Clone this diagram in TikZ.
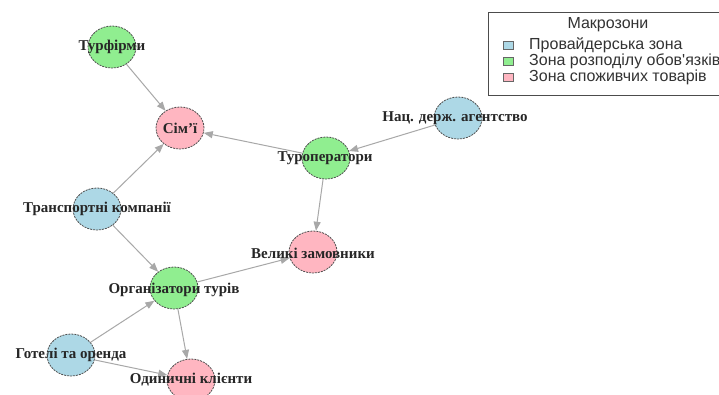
\documentclass[tikz,border=0pt]{standalone}
\usepackage{fontspec}
\setmainfont{Liberation Serif}
\newfontfamily\legendfont{Liberation Sans}
\usetikzlibrary{arrows.meta,shapes.geometric}
\definecolor{cblue}{HTML}{ADD8E6}
\definecolor{cgreen}{HTML}{90EE90}
\definecolor{cpink}{HTML}{FFB6C1}
\definecolor{edgegray}{HTML}{A8A8A8}
\definecolor{bordergray}{HTML}{505050}
\tikzset{
  vert/.style={ellipse, draw=bordergray, dash pattern=on 2pt off 1pt, line width=0.8pt,
    minimum width=48pt, minimum height=42pt, inner sep=0pt},
  lbl/.style={font=\fontsize{15}{17}\selectfont\bfseries, text=black!85, inner sep=0pt},
  edge/.style={draw=edgegray, line width=1pt, -{Triangle[length=9pt,width=7pt]}},
  legtext/.style={font=\legendfont\fontsize{16}{18}\selectfont, text=black!80, anchor=west, inner sep=0pt},
  legbox/.style={draw=black!60, line width=0.6pt, minimum width=10pt, minimum height=8pt, inner sep=0pt}
}
\begin{document}
\begin{tikzpicture}[x=1pt,y=-1pt]
\useasboundingbox (0,0) rectangle (719,394);
\clip (0,0) rectangle (719,394);
\fill[white] (0,0) rectangle (719,394);

% vertices
\node[vert, fill=cgreen] (tf) at (112,47) {};
\node[vert, fill=cpink]  (sim) at (180,128) {};
\node[vert, fill=cblue]  (nda) at (458,118) {};
\node[vert, fill=cgreen] (to) at (326,158) {};
\node[vert, fill=cblue]  (tk) at (97,209) {};
\node[vert, fill=cpink]  (vz) at (313,252) {};
\node[vert, fill=cgreen] (ot) at (174,288) {};
\node[vert, fill=cblue]  (go) at (71,355) {};
\node[vert, fill=cpink]  (ok) at (191,380) {};

% edges
\draw[edge] (tf) -- (sim);
\draw[edge] (to) -- (sim);
\draw[edge] (tk) -- (sim);
\draw[edge] (nda) -- (to);
\draw[edge] (to) -- (vz);
\draw[edge] (tk) -- (ot);
\draw[edge] (ot) -- (vz);
\draw[edge] (go) -- (ot);
\draw[edge] (ot) -- (ok);
\draw[edge] (go) -- (ok);

% labels
\node[lbl] (ltf) at (tf) {Турфірми};
\node[lbl] (lsim) at (sim) {Сім'ї};
\node[lbl] (lnda) at (455,118) {Нац. держ. агентство};
\node[lbl] (lto) at (325,158) {Туроператори};
\node[lbl] (ltk) at (97,209) {Транспортні компанії};
\node[lbl] (lvz) at (313,253) {Великі замовники};
\node[lbl] (lot) at (174,290) {Організатори турів};
\node[lbl] (lgo) at (71,355) {Готелі та оренда};
\node[lbl] (lok) at (191,380) {Одиничні клієнти};

% legend
\draw[black!70, line width=0.8pt, fill=white] (488,12) rectangle (740,95);
\node[font=\legendfont\fontsize{16}{18}\selectfont, text=black!80] (lt) at (608,25) {Макрозони};
\node[legbox, fill=cblue] (b1) at (508,45) {};
\node[legbox, fill=cgreen] (b2) at (508,61) {};
\node[legbox, fill=cpink] (b3) at (508,77) {};
\node[legtext] (t1) at (529,45) {Провайдерська зона};
\node[legtext] (t2) at (529,61) {Зона розподілу обов'язків};
\node[legtext] (t3) at (529,77) {Зона споживчих товарів};
\end{tikzpicture}
\end{document}
